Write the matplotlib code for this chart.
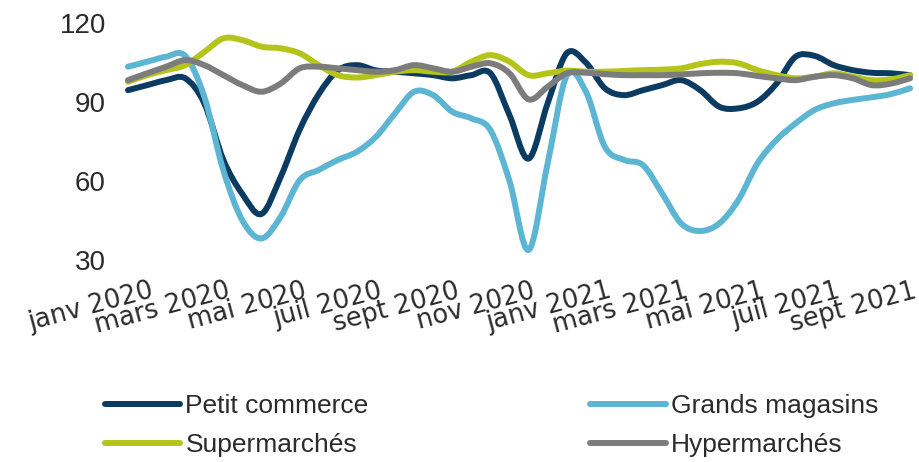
import matplotlib
matplotlib.use("Agg")
import matplotlib.pyplot as plt
import numpy as np
from matplotlib.lines import Line2D
from matplotlib.patches import PathPatch
from matplotlib.path import Path
from matplotlib.transforms import ScaledTranslation

plt.rcParams["font.family"] = ["Liberation Sans", "DejaVu Sans"]

# half-month steps, janv 2020 -> oct 2021
months = np.arange(42) * 0.5

petit_commerce = [94.5, 96.4, 98.3, 99.0, 89.5, 68.0, 55.0, 47.5, 61.5, 79.5,
                  93.0, 102.0, 104.0, 102.0, 101.5, 100.9, 100.2, 99.0, 100.2, 100.9,
                  85.0, 68.5, 89.5, 108.5, 105.0, 95.2, 92.6, 94.5, 96.4, 98.3,
                  94.5, 88.2, 87.6, 90.1, 97.0, 107.2, 107.5, 104.0, 102.1, 101.1,
                  100.9, 100.2]
grands_magasins = [103.4, 105.3, 107.2, 107.5, 92.0, 64.0, 45.0, 38.2, 46.4, 60.3,
                   64.2, 68.0, 71.1, 76.8, 85.7, 93.9, 92.6, 86.3, 83.8, 79.3,
                   60.0, 33.8, 66.7, 100.0, 94.0, 73.0, 68.0, 66.0, 55.3, 43.9,
                   41.0, 43.9, 52.8, 66.7, 75.6, 81.9, 87.0, 89.5, 90.8, 91.8,
                   93.0, 95.2]
supermarches = [97.7, 100.2, 102.1, 104.0, 109.0, 114.2, 113.5, 111.0, 110.4, 108.5,
                104.0, 100.2, 99.3, 100.2, 101.5, 102.1, 101.5, 101.5, 105.3, 107.8,
                105.3, 100.2, 100.9, 101.9, 101.5, 101.5, 101.8, 102.1, 102.3, 102.8,
                104.4, 105.3, 104.7, 102.1, 100.2, 99.0, 99.6, 100.9, 99.6, 98.3,
                98.6, 100.2]
hypermarches = [98.3, 100.9, 103.4, 105.9, 104.0, 100.2, 96.4, 93.9, 97.0, 102.8,
                103.4, 102.8, 102.1, 101.5, 102.1, 104.0, 102.8, 101.5, 103.4, 104.7,
                100.9, 91.0, 95.8, 100.9, 101.1, 100.6, 100.2, 100.2, 100.2, 100.5,
                100.9, 101.1, 100.9, 99.9, 99.0, 98.3, 99.6, 100.2, 99.0, 96.4,
                97.0, 99.0]

series_names = ["Petit commerce", "Grands magasins", "Supermarchés", "Hypermarchés"]
series_colors = ["#0c3b61", "#5cb5d2", "#b5c41a", "#7c7c7c"]

tick_months = np.arange(0, 21, 2)
tick_labels = ["janv 2020", "mars 2020", "mai 2020", "juil 2020", "sept 2020", "nov 2020",
               "janv 2021", "mars 2021", "mai 2021", "juil 2021", "sept 2021"]
y_ticks = [30, 60, 90, 120]


def smooth_path(xs, ys):
    # cubic bezier through every point, catmull-rom style tangents
    pts = np.column_stack([xs, ys]).astype(float)
    n = len(pts)
    verts = [pts[0]]
    codes = [Path.MOVETO]
    for i in range(n - 1):
        p0 = pts[i - 1] if i > 0 else pts[i]
        p1 = pts[i]
        p2 = pts[i + 1]
        p3 = pts[i + 2] if i + 2 < n else pts[i + 1]
        verts += [p1 + (p2 - p0) / 6.0, p2 - (p3 - p1) / 6.0, p2]
        codes += [Path.CURVE4] * 3
    return Path(verts, codes)


fig = plt.figure(figsize=(9.2, 4.62), dpi=100)
ax = fig.add_axes([128 / 920, 0.4372, 789.7 / 920, 0.513])

lw = 4.3
handles = []
for name, color, values in zip(series_names, series_colors,
                               [petit_commerce, grands_magasins, supermarches, hypermarches]):
    patch = PathPatch(smooth_path(months, values), facecolor="none", edgecolor=color,
                      linewidth=lw, capstyle="round", joinstyle="round", clip_on=False)
    ax.add_patch(patch)
    handles.append(Line2D([], [], color=color, linewidth=lw, solid_capstyle="round", label=name))

ax.set_xlim(0, 20.7)
ax.set_ylim(30, 120)
for side in ax.spines.values():
    side.set_visible(False)

ax.set_yticks(y_ticks)
ax.set_yticklabels([str(v) for v in y_ticks])
ax.tick_params(axis="y", length=0, pad=16, labelsize=20, labelcolor="#2b2b2b")

ax.set_xticks(tick_months)
ax.set_xticklabels(tick_labels, rotation=15, ha="right", va="top", rotation_mode="anchor",
                   family="DejaVu Sans")
ax.tick_params(axis="x", length=0, pad=0, labelsize=18.5, labelcolor="#2b2b2b")
shift = ScaledTranslation(0.22, -0.18, fig.dpi_scale_trans)
for lab in ax.get_xticklabels():
    lab.set_transform(lab.get_transform() + shift)

# two columns: petit/super on the left, grands/hyper on the right
order = [0, 2, 1, 3]
fig.legend(handles=[handles[i] for i in order], loc="upper left",
           bbox_to_anchor=(105 / 920, 1 - 394 / 462), ncol=2, frameon=False,
           fontsize=19, handlelength=2.85, handletextpad=0.2, columnspacing=8.4,
           labelspacing=0.58, borderpad=0, borderaxespad=0, labelcolor="#2b2b2b")

fig.savefig("out.png", dpi=100, facecolor="white")
